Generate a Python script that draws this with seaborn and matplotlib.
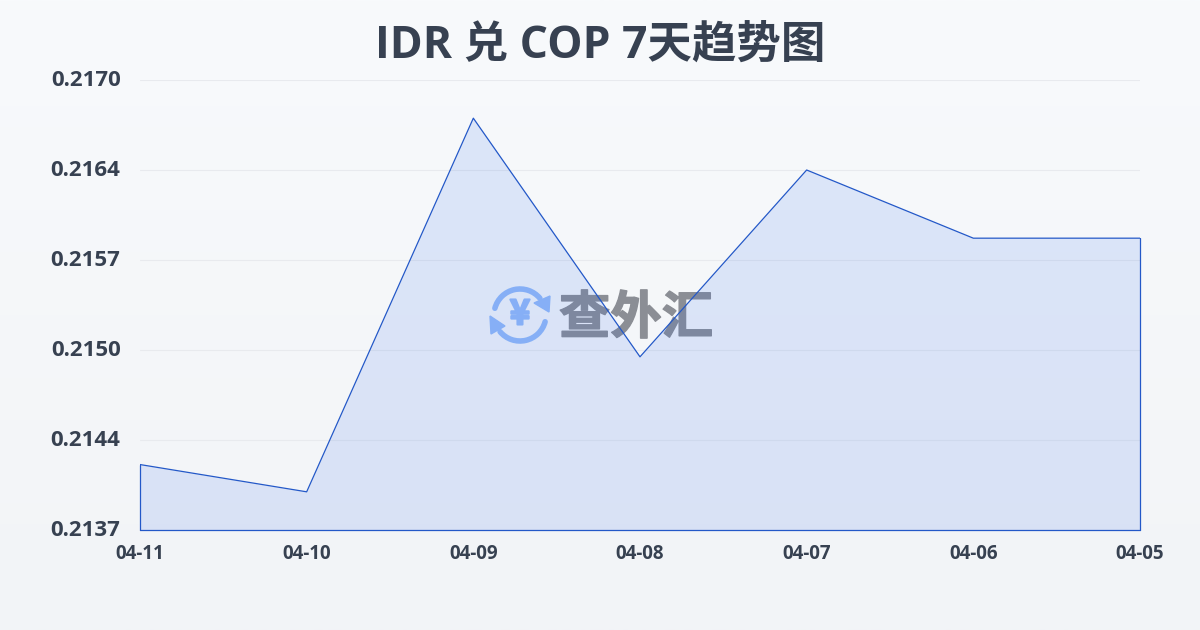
import numpy as np
import pandas as pd
import matplotlib
matplotlib.use("Agg")
import matplotlib.pyplot as plt
from matplotlib.patches import Arc, Polygon
from matplotlib.transforms import ScaledTranslation
import matplotlib.patheffects as pe
import seaborn as sns

dates = ["04-11", "04-10", "04-09", "04-08", "04-07", "04-06", "04-05"]
rates = [0.21420, 0.21400, 0.21674, 0.21499, 0.21636, 0.21586, 0.21586]
y_ticks = [0.21372, 0.21438, 0.21504, 0.21570, 0.21636, 0.21702]
y_labels = ["0.2137", "0.2144", "0.2150", "0.2157", "0.2164", "0.2170"]
title = "IDR 兑 COP 7天趋势图"

sns.set_theme(style="white")
plt.rcParams['font.family'] = ['Open Sans', 'Noto Sans CJK SC', 'DejaVu Sans']

df = pd.DataFrame({"date": dates, "rate": rates})

fig = plt.figure(figsize=(12, 6.3), dpi=100)

# background gradient + watermark, in pixel coords
bg = fig.add_axes([0, 0, 1, 1], zorder=0)
bg.imshow(np.linspace(0, 1, 256).reshape(-1, 1),
          cmap=matplotlib.colors.LinearSegmentedColormap.from_list("bg", ["#f8fafc", "#f2f4f7"]),
          aspect="auto", extent=[0, 1200, 630, 0])
bg.set_xlim(0, 1200)
bg.set_ylim(630, 0)
bg.axis("off")

blue = "#94bbf8"
bg.add_patch(Arc((520, 315), 52, 52, theta1=195, theta2=320, color=blue, lw=4, capstyle="round"))
bg.add_patch(Arc((520, 315), 52, 52, theta1=15, theta2=140, color=blue, lw=4, capstyle="round"))
bg.add_patch(Polygon([[550, 296], [549, 312], [534, 303]], color=blue))
bg.add_patch(Polygon([[490, 316], [505, 326], [491, 334]], color=blue))
bg.text(520, 314, "¥", color=blue, fontsize=25, fontweight="bold", ha="center", va="center",
        family=["Noto Sans CJK SC"], path_effects=[pe.withStroke(linewidth=1.5, foreground=blue)])
bg.text(636, 318, "查外汇", color="#8b8e95", fontsize=37, fontweight="bold", ha="center", va="center",
        family=["Noto Sans CJK SC"], path_effects=[pe.withStroke(linewidth=1, foreground="#8b8e95")])

ax = fig.add_axes([140 / 1200, 1 - 530 / 630, 1000 / 1200, 450 / 630], zorder=1)
ax.patch.set_alpha(0)

line_col = "#2358c8"
sns.lineplot(data=df, x="date", y="rate", sort=False, color=line_col, lw=0.9, ax=ax)
xpos = np.arange(len(dates))
ax.fill_between(xpos, rates, y_ticks[0], color="#2563eb", alpha=0.125, lw=0)
ax.plot([0, 0], [y_ticks[0], rates[0]], color=line_col, lw=0.9, clip_on=False)
ax.plot([6, 6], [y_ticks[0], rates[6]], color=line_col, lw=0.9, clip_on=False)
ax.plot([0, 6], [y_ticks[0], y_ticks[0]], color=line_col, lw=0.9, clip_on=False)

ax.set_xlim(0, 6)
ax.set_ylim(y_ticks[0], y_ticks[-1])
ax.set_xticks(xpos)
ax.set_xticklabels(dates)
ax.set_yticks(y_ticks)
ax.set_yticklabels(y_labels)
ax.set_xlabel("")
ax.set_ylabel("")
ax.grid(axis="y", color="#e8eaee", lw=0.8)
ax.set_axisbelow(True)
sns.despine(ax=ax, left=True, bottom=True)

ax.tick_params(axis="x", length=5, width=0.8, color="#e8eaee", pad=5, labelsize=13.5, labelcolor="#374151")
ax.tick_params(axis="y", length=0, pad=14, labelsize=16, labelcolor="#374151")
for lab in ax.get_xticklabels() + ax.get_yticklabels():
    lab.set_fontweight("bold")
up = ScaledTranslation(0, 2 / 100, fig.dpi_scale_trans)
for lab in ax.get_yticklabels():
    lab.set_transform(lab.get_transform() + up)

fig.text(600 / 1200, 1 - 46 / 630, title, fontsize=32, fontweight="bold", color="#374151",
         ha="center", va="center")

fig.savefig("out.png", dpi=100)
